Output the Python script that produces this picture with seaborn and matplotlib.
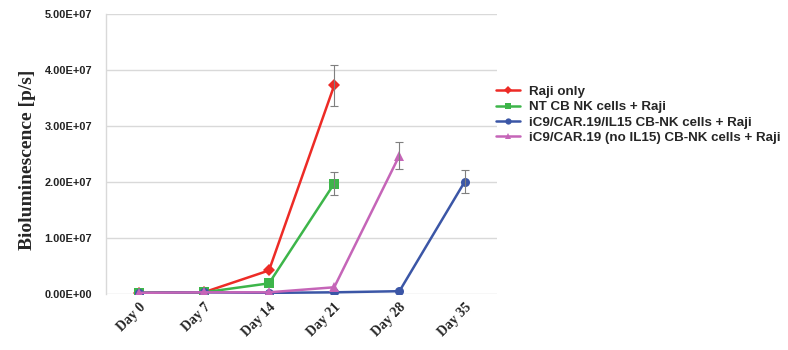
import numpy as np
import pandas as pd
import matplotlib
matplotlib.use("Agg")
import matplotlib.pyplot as plt
import seaborn as sns

# Data (bioluminescence, p/s)
days = [0, 7, 14, 21, 28, 35]
day_labels = ["Day 0", "Day 7", "Day 14", "Day 21", "Day 28", "Day 35"]
groups = ["Raji only",
          "NT CB NK cells + Raji",
          "iC9/CAR.19/IL15 CB-NK cells + Raji",
          "iC9/CAR.19 (no IL15) CB-NK cells + Raji"]

raji_only = [2.0e5, 3.0e5, 4.2e6, 3.72e7, np.nan, np.nan]
nt_nk = [2.0e5, 3.0e5, 1.9e6, 1.97e7, np.nan, np.nan]
car19_il15 = [2.0e5, 3.0e5, 2.0e5, 3.0e5, 5.0e5, 2.0e7]
car19_no_il15 = [2.0e5, 3.0e5, 3.0e5, 1.2e6, 2.47e7, np.nan]

# error bars only visible on the last point of each series
raji_err = [0, 0, 0, 3.65e6, np.nan, np.nan]
nt_err = [0, 0, 0, 2.0e6, np.nan, np.nan]
il15_err = [0, 0, 0, 0, 0, 2.05e6]
no_il15_err = [0, 0, 0, 0, 2.45e6, np.nan]

colors = ["#ED2B26", "#3DB54A", "#3B56A6", "#C565B8"]
markers = ["D", "s", "o", "^"]

values = [raji_only, nt_nk, car19_il15, car19_no_il15]
errors = [raji_err, nt_err, il15_err, no_il15_err]

rows = []
for g, vals, errs in zip(groups, values, errors):
    for d, v, e in zip(days, vals, errs):
        rows.append({"day": d, "group": g, "value": v, "err": e})
df = pd.DataFrame(rows).dropna(subset=["value"])

sns.set_style("white")
plt.rcParams["font.family"] = ["Liberation Sans", "DejaVu Sans"]

fig = plt.figure(figsize=(7.88, 3.5), dpi=100)
ax = fig.add_axes([0.1345, 0.16, 0.4965, 0.801])

palette = dict(zip(groups, colors))
marker_map = dict(zip(groups, markers))

sns.lineplot(data=df, x="day", y="value", hue="group", style="group",
             hue_order=groups, style_order=groups,
             palette=palette, markers=marker_map, dashes=False,
             linewidth=1.8, markersize=6.5, markeredgewidth=0,
             ax=ax, legend=True, zorder=3)

# error bars
for g in groups:
    sub = df[(df["group"] == g) & (df["err"] > 0)]
    ax.errorbar(sub["day"], sub["value"], yerr=sub["err"], fmt="none",
                ecolor="#7f7f7f", elinewidth=0.8, capsize=3, capthick=0.8,
                zorder=4)

ax.set_xlim(-3.5, 38.5)
ax.set_ylim(0, 5e7)
ax.set_yticks(np.arange(0, 5.01e7, 1e7))
ax.set_yticklabels([f"{v:.2E}" for v in np.arange(0, 5.01e7, 1e7)],
                   fontsize=7.9, fontweight="bold", color="#222222")
ax.set_xticks(days)
ax.set_xticklabels(day_labels, rotation=45, ha="right", va="top",
                   rotation_mode="anchor", fontsize=10, fontweight="bold",
                   family="Liberation Serif")
ax.tick_params(axis="y", pad=10, length=0)
ax.tick_params(axis="x", pad=5, length=0)

ax.grid(axis="y", color="#d9d9d9", linewidth=1)
ax.set_axisbelow(True)
for s in ["top", "right", "bottom"]:
    ax.spines[s].set_visible(False)
ax.spines["left"].set_color("#d9d9d9")
ax.spines["left"].set_linewidth(1)

ax.set_xlabel("")
ax.set_ylabel("Bioluminescence [p/s]", fontsize=14, fontweight="bold",
              family="Liberation Serif")
ax.yaxis.set_label_coords(-0.178, 0.48)

handles, labels = ax.get_legend_handles_labels()
leg = ax.legend(handles, labels, loc="center left",
                bbox_to_anchor=(0.6294, 0.672), bbox_transform=fig.transFigure,
                frameon=False, prop={"weight": "bold", "size": 9.6},
                borderaxespad=0, borderpad=0,
                handlelength=1.8, handletextpad=0.7, labelspacing=0.22)
for h in leg.get_lines():
    h.set_markersize(4.5)

fig.savefig("out.png", dpi=100)
